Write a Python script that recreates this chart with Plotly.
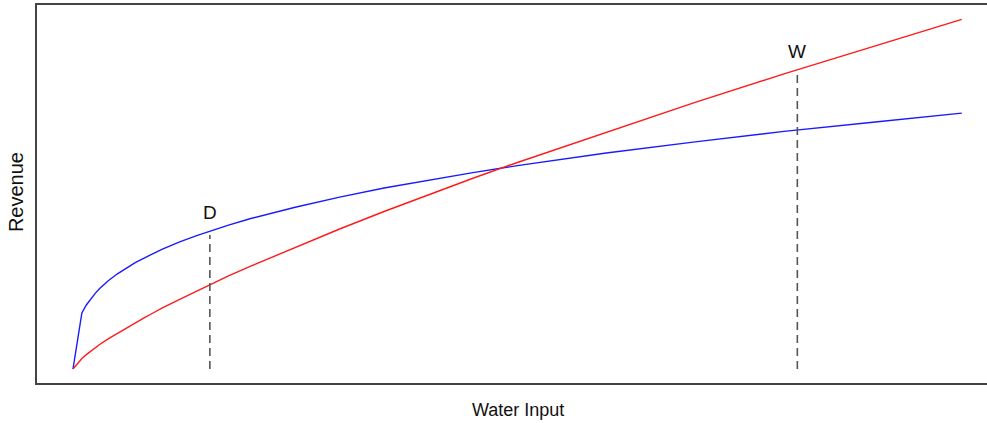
import plotly.graph_objects as go

# Water input (x) and revenue curves
water = [0, 1, 1.5, 2, 2.5, 3, 4, 5, 6, 7, 8, 9, 10, 12, 14, 17.5, 20, 25, 30, 35, 40, 45,
         50, 60, 70, 80, 90, 100]
rev_blue = [0, 16.0, 18.3, 20.1, 21.6, 23.0, 25.3, 27.2, 28.9, 30.4, 31.7, 33.0, 34.2, 36.3,
            38.2, 41.1, 43.0, 46.2, 49.1, 51.7, 54.0, 56.1, 58.1, 61.7, 64.9, 67.9, 70.5, 73.1]
rev_red = [0, 3.0, 4.1, 5.1, 6.1, 7.0, 8.7, 10.2, 11.8, 13.2, 14.6, 16.0, 17.4, 19.9,
           22.4, 26.6, 29.4, 34.8, 40.0, 45.0, 49.8, 54.5, 59.0, 67.7, 76.2, 84.3, 92.2, 99.9]

# Marked points D and W
mark_labels = ["D", "W"]
mark_x = [15.4, 81.5]
mark_top = [39.5, 85.5]

fig = go.Figure()
fig.add_trace(go.Scatter(x=water, y=rev_blue, mode="lines",
                         line=dict(color="#1a1aff", width=1.4),
                         hoverinfo="skip", showlegend=False))
fig.add_trace(go.Scatter(x=water, y=rev_red, mode="lines",
                         line=dict(color="#ff1a1a", width=1.4),
                         hoverinfo="skip", showlegend=False))

for lab, mx, mt in zip(mark_labels, mark_x, mark_top):
    fig.add_trace(go.Scatter(x=[mx, mx], y=[0, mt - 1.2], mode="lines",
                             line=dict(color="#555555", width=1.6, dash="8px,5px"),
                             hoverinfo="skip", showlegend=False))
    fig.add_annotation(x=mx, y=mt, text=lab, showarrow=False, yshift=18,
                       yanchor="middle", font=dict(family="Liberation Sans, Arial", size=19, color="#111111"))

fig.add_annotation(xref="paper", yref="paper", x=0.506, y=-0.0714, text="Water Input",
                   showarrow=False, yanchor="middle", xanchor="center",
                   font=dict(family="Liberation Sans, Arial", size=18, color="#111111"))
fig.add_annotation(xref="paper", yref="paper", x=-0.0221, y=0.505, text="Revenue",
                   showarrow=False, textangle=-90, yanchor="middle", xanchor="center",
                   font=dict(family="Liberation Sans, Arial", size=20, color="#111111"))

fig.update_xaxes(range=[-4.05, 102.84], showticklabels=False, showgrid=False, zeroline=False,
                 ticks="", showline=True, linecolor="#444444", linewidth=2, mirror=True)
fig.update_yaxes(range=[-4, 104], showticklabels=False, showgrid=False, zeroline=False,
                 ticks="", showline=True, linecolor="#444444", linewidth=2, mirror=False)

fig.update_layout(width=987, height=423, margin=dict(l=37, r=0, t=5, b=40),
                  plot_bgcolor="white", paper_bgcolor="white")

fig.write_html("out.html", config={"displayModeBar": False},
               post_script="document.body.style.margin='0';document.body.style.overflow='hidden';")
